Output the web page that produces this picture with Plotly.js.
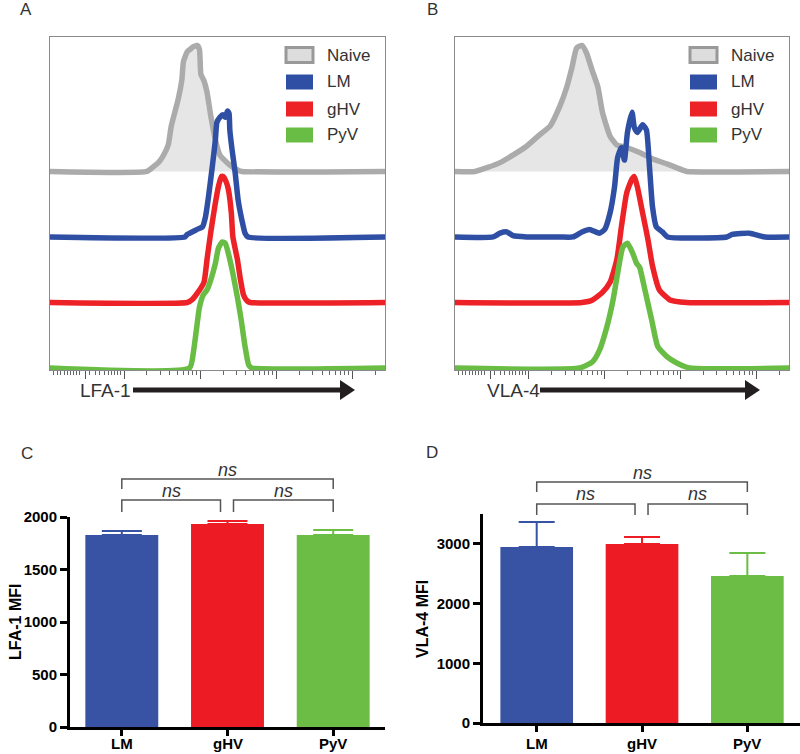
<!DOCTYPE html>
<html><head><meta charset="utf-8">
<script src="https://cdn.plot.ly/plotly-3.0.1.min.js"></script>
<style>html,body{margin:0;padding:0;background:#fff}#chart{width:800px;height:754px}</style>
</head><body><div id="chart"></div>
<script>
// ---------- DATA ----------
const groups = ['Naive', 'LM', 'gHV', 'PyV'];
const histColors = ['#ababab', '#2f4fa4', '#ec2227', '#69bd45'];
const naiveFill = '#e6e6e6';

// Panel A: LFA-1 histograms (x = display position in log10 units, pct = % of mode)
const lfaNaiveX = [1.0, 2.30, 2.37, 2.45, 2.51, 2.58, 2.62, 2.71, 2.76, 2.78, 2.83, 2.87, 2.91, 2.96, 2.99, 3.01, 3.05, 3.09, 3.14, 3.20, 3.26, 3.39, 3.50, 3.55, 5.5];
const lfaNaivePct = [0, 0, 3, 7, 12, 21, 36, 57, 73, 87, 95, 97, 99, 100, 97, 77, 72, 63, 44, 25, 13, 5, 1, 0, 0];
const lfaLMX = [1.0, 2.80, 2.83, 2.96, 3.03, 3.07, 3.11, 3.16, 3.20, 3.22, 3.26, 3.30, 3.33, 3.36, 3.38, 3.39, 3.42, 3.46, 3.50, 3.55, 3.59, 3.63, 5.5];
const lfaLMPct = [0, 0, 2, 6, 8, 16, 32, 56, 77, 91, 95, 97, 95, 100, 98, 85, 69, 51, 29, 13, 3, 0, 0];
const lfaGHVX = [1.0, 2.83, 2.89, 2.97, 3.05, 3.09, 3.14, 3.20, 3.24, 3.28, 3.30, 3.34, 3.37, 3.41, 3.43, 3.49, 3.53, 3.57, 3.62, 3.66, 5.5];
const lfaGHVPct = [0, 0, 2, 8, 16, 34, 56, 79, 92, 100, 100, 96, 90, 71, 52, 34, 18, 6, 1, 0, 0];
const lfaPyVX = [1.0, 2.86, 2.91, 2.95, 2.99, 3.04, 3.09, 3.14, 3.20, 3.24, 3.29, 3.33, 3.37, 3.43, 3.49, 3.54, 3.59, 3.64, 3.68, 5.5];
const lfaPyVPct = [0, 0, 12, 30, 48, 58, 62, 70, 83, 95, 100, 99, 91, 75, 56, 38, 17, 2, 0, 0];

// Panel B: VLA-4 histograms
const vlaNaiveX = [1.0, 1.29, 1.45, 1.62, 1.79, 1.97, 2.14, 2.28, 2.41, 2.50, 2.57, 2.63, 2.70, 2.76, 2.83, 2.91, 2.97, 3.07, 3.16, 3.29, 3.46, 3.63, 3.82, 4.03, 4.08, 5.5];
const vlaNaivePct = [0, 0, 3, 7, 13, 20, 29, 36, 52, 67, 83, 98, 100, 94, 81, 67, 47, 28, 21, 19, 15, 10, 6, 1, 0, 0];
const vlaLMX = [1.0, 1.53, 1.62, 1.71, 1.79, 1.97, 2.14, 2.41, 2.58, 2.70, 2.80, 2.93, 3.00, 3.07, 3.13, 3.17, 3.22, 3.26, 3.30, 3.36, 3.39, 3.43, 3.50, 3.55, 3.59, 3.63, 3.68, 3.76, 3.83, 4.61, 4.68, 4.91, 5.11, 5.5];
const vlaLMPct = [0, 0, 3, 4, 1, 0, 0, 0, 0, 4, 6, 3, 6, 19, 40, 63, 71, 61, 83, 99, 87, 83, 89, 85, 56, 24, 8, 4, 0, 0, 2, 3, 0, 0];
const vlaGHVX = [1.0, 2.70, 2.84, 2.97, 3.07, 3.16, 3.22, 3.29, 3.36, 3.39, 3.43, 3.50, 3.57, 3.63, 3.72, 3.86, 4.08, 5.5];
const vlaGHVPct = [0, 0, 2, 8, 16, 34, 60, 87, 98, 100, 92, 71, 50, 29, 10, 2, 0, 0];
const vlaPyVX = [1.0, 2.67, 2.84, 2.93, 3.03, 3.11, 3.17, 3.24, 3.30, 3.37, 3.42, 3.46, 3.53, 3.62, 3.70, 3.82, 3.95, 4.12, 5.5];
const vlaPyVPct = [0, 0, 5, 14, 33, 54, 75, 96, 99, 91, 83, 80, 62, 38, 17, 9, 4, 0, 0];

// Histogram axis ticks (biexponential display: zero, 10^2 .. 10^5)
const histMajorTicks = [1.49, 2, 3, 4, 5];
const histLeftMinorTicks = [1.07, 1.12, 1.17, 1.22, 1.26, 1.30, 1.34, 1.38, 1.42, 1.55, 1.62, 1.68, 1.74, 1.79, 1.83, 1.87, 1.91, 1.95];
const decades = [2, 3, 4, 5];
const decadeMultipliers = [2, 3, 4, 5, 6, 7, 8, 9];

// Panels C & D: MFI bar charts
const barCats = ['LM', 'gHV', 'PyV'];
const barColors = ['#3953a4', '#ed1c24', '#6cbd45'];
const lfaMFI = [1829, 1933, 1829];
const lfaSEM = [38, 29, 48];
const vlaMFI = [2948, 2998, 2462];
const vlaSEM = [419, 118, 386];
const lfaTicks = [0, 500, 1000, 1500, 2000];
const vlaTicks = [0, 1000, 2000, 3000];
const yTitles = ['LFA-1 MFI', 'VLA-4 MFI'];
const sigLabel = 'ns';
const comparisons = [[0, 1], [1, 2], [0, 2]];

// ---------- LAYOUT HELPERS ----------
const W = 800, H = 754;
const PX = x => x / W;
const PY = y => 1 - y / H;
const histXRange = [1.026, 5.43];
const histYRange = [-1.6, 262.7];
const offsets = [156, 104, 52, 0];

const panels = {
  A: {x: [50, 385], y: [37, 370]},
  B: {x: [455, 789], y: [37, 370]},
  C: {x: [70, 385], y: [517, 727], r: [-0.49, 2.49]},
  D: {x: [483, 800], y: [514, 723], r: [-0.51, 2.5]}
};
const dom = p => ({x: [PX(p.x[0]), PX(p.x[1])], y: [PY(p.y[1]), PY(p.y[0])]});

const histMinorTicks = histLeftMinorTicks.slice();
decades.forEach(d => decadeMultipliers.forEach(m => {
  const v = d + Math.log10(m);
  if (v < histXRange[1]) histMinorTicks.push(v);
}));

const traces = [];
function addHist(xs, pcts, i, xa, ya) {
  const y = pcts.map(v => v + offsets[i]);
  const t = {x: xs, y: y, type: 'scatter', mode: 'lines', xaxis: xa, yaxis: ya,
    line: {color: histColors[i], width: 5.5, shape: 'spline', smoothing: 0.5}, showlegend: false, hoverinfo: 'skip'};
  if (i === 0) { t.fill = 'toself'; t.fillcolor = naiveFill; }
  traces.push(t);
}
[[lfaNaiveX, lfaNaivePct], [lfaLMX, lfaLMPct], [lfaGHVX, lfaGHVPct], [lfaPyVX, lfaPyVPct]]
  .forEach((s, i) => addHist(s[0], s[1], i, 'x', 'y'));
[[vlaNaiveX, vlaNaivePct], [vlaLMX, vlaLMPct], [vlaGHVX, vlaGHVPct], [vlaPyVX, vlaPyVPct]]
  .forEach((s, i) => addHist(s[0], s[1], i, 'x2', 'y2'));

function addBars(vals, sems, xa, ya, capW) {
  barCats.forEach((c, i) => traces.push({
    type: 'bar', x: [c], y: [vals[i]], xaxis: xa, yaxis: ya, width: 0.69,
    marker: {color: barColors[i], line: {width: 0}}, showlegend: false, hoverinfo: 'skip',
    error_y: {type: 'data', symmetric: false, array: [sems[i]], arrayminus: [0],
      color: barColors[i], thickness: 2, width: capW}
  }));
}
addBars(lfaMFI, lfaSEM, 'x3', 'y3', 20);
addBars(vlaMFI, vlaSEM, 'x4', 'y4', 18);

const FONT = 'Liberation Sans, Arial, sans-serif';
const histX = d => ({domain: d.x, range: histXRange, showline: true, linecolor: '#8a8a8a', linewidth: 1, mirror: true,
  ticks: 'outside', tickmode: 'array', tickvals: histMajorTicks, ticklen: 8, tickwidth: 1, tickcolor: '#555',
  showticklabels: false, showgrid: false, zeroline: false, fixedrange: true,
  minor: {tickmode: 'array', tickvals: histMinorTicks, ticks: 'outside', ticklen: 4, tickwidth: 1, tickcolor: '#666', showgrid: false}});
const histY = (d, xa) => ({domain: d.y, range: histYRange, showline: true, linecolor: '#8a8a8a', linewidth: 1, mirror: true,
  ticks: '', showticklabels: false, showgrid: false, zeroline: false, anchor: xa, fixedrange: true});

const barX = (d, r, ya) => ({domain: d.x, range: r, type: 'category', categoryarray: barCats, anchor: ya,
  showline: true, linecolor: '#000', linewidth: 3, ticks: 'outside', ticklen: 6, tickwidth: 3, tickcolor: '#000',
  showticklabels: false, showgrid: false, zeroline: false, fixedrange: true});
const barY = (d, r, tv, xa) => ({domain: d.y, range: r, anchor: xa, tickmode: 'array', tickvals: tv,
  showline: true, linecolor: '#000', linewidth: 3, ticks: 'outside', ticklen: 7, tickwidth: 3, tickcolor: '#000',
  tickfont: {family: FONT, size: 15, weight: 'bold', color: '#000'}, showgrid: false, zeroline: false, fixedrange: true});

const dA = dom(panels.A), dB = dom(panels.B), dC = dom(panels.C), dD = dom(panels.D);

const shapes = [], annotations = [];
[['A', 26, 9], ['B', 432, 9], ['C', 27, 453], ['D', 432, 452]].forEach(l => annotations.push({
  text: l[0], x: PX(l[1]), y: PY(l[2]), xref: 'paper', yref: 'paper', showarrow: false,
  xanchor: 'center', yanchor: 'middle', font: {family: FONT, size: 17, color: '#333'}}));

function histDeco(p, label, labelLeft) {
  const sx0 = p.x[1] - 99, sx1 = p.x[1] - 72, tx = p.x[1] - 60;
  const ys = [55, 82, 109, 135];
  groups.forEach((g, i) => {
    shapes.push({type: 'rect', xref: 'paper', yref: 'paper', x0: PX(sx0), x1: PX(sx1), y0: PY(ys[i] + 7.5), y1: PY(ys[i] - 7.5),
      fillcolor: i === 0 ? '#dddddd' : histColors[i], line: {color: i === 0 ? '#999' : histColors[i], width: i === 0 ? 3 : 0}});
    annotations.push({text: g, x: PX(tx), y: PY(ys[i]), xref: 'paper', yref: 'paper', showarrow: false,
      xanchor: 'left', yanchor: 'middle', font: {family: FONT, size: 17, color: '#333'}});
  });
  annotations.push({text: label, x: PX(labelLeft), y: PY(390), xref: 'paper', yref: 'paper', showarrow: false,
    xanchor: 'left', yanchor: 'middle', font: {family: FONT, size: 19, color: '#333'}});
  const lx0 = labelLeft + 55, hx = p.x[0] + 290;
  shapes.push({type: 'line', xref: 'paper', yref: 'paper', x0: PX(lx0), x1: PX(hx + 2), y0: PY(390), y1: PY(390),
    line: {color: '#231f20', width: 5}});
  shapes.push({type: 'path', xref: 'paper', yref: 'paper', fillcolor: '#231f20', line: {width: 0},
    path: `M ${PX(hx)} ${PY(380)} L ${PX(hx + 15)} ${PY(390)} L ${PX(hx)} ${PY(400)} Z`});
}
histDeco(panels.A, 'LFA-1', 78);
histDeco(panels.B, 'VLA-4', 485);

function catPx(p, idx) { return p.x[0] + (idx - p.r[0]) / (p.r[1] - p.r[0]) * (p.x[1] - p.x[0]); }
function barDeco(p, title, titleX, titleY) {
  barCats.forEach((c, i) => annotations.push({text: c, x: PX(catPx(p, i)), y: PY(743), xref: 'paper', yref: 'paper',
    showarrow: false, xanchor: 'center', yanchor: 'middle', font: {family: FONT, size: 15, weight: 'bold', color: '#000'}}));
  annotations.push({text: title, x: PX(titleX), y: PY(titleY), xref: 'paper', yref: 'paper', showarrow: false,
    textangle: -90, xanchor: 'center', yanchor: 'middle', font: {family: FONT, size: 16, weight: 'bold', color: '#000'}});
}
barDeco(panels.C, yTitles[0], 15, 622);
barDeco(panels.D, yTitles[1], 422, 619);

function brackets(p, lowLine, lowLeg, topLine, topLeg, lowText, topText) {
  comparisons.forEach(c => {
    const top = (c[1] - c[0]) === 2;
    let x0 = catPx(p, c[0]), x1 = catPx(p, c[1]);
    if (!top) { if (c[1] === 1) x1 -= 7; if (c[0] === 1) x0 += 6; }
    const yl = top ? topLine : lowLine, yg = top ? topLeg : lowLeg;
    shapes.push({type: 'path', xref: 'paper', yref: 'paper', line: {color: '#555', width: 1.5},
      path: `M ${PX(x0)} ${PY(yg)} L ${PX(x0)} ${PY(yl)} L ${PX(x1)} ${PY(yl)} L ${PX(x1)} ${PY(yg)}`});
    annotations.push({text: sigLabel, x: PX((x0 + x1) / 2), y: PY(top ? topText : lowText), xref: 'paper', yref: 'paper',
      showarrow: false, xanchor: 'center', yanchor: 'middle', font: {family: FONT, size: 18, style: 'italic', color: '#333'}});
  });
}
brackets(panels.C, 500, 512, 479, 489, 491, 470);
brackets(panels.D, 504, 515, 482, 492, 494, 473);

const layout = {
  width: W, height: H, margin: {l: 0, r: 0, t: 0, b: 0}, paper_bgcolor: '#fff', plot_bgcolor: 'rgba(0,0,0,0)',
  showlegend: false, barmode: 'overlay', font: {family: FONT, color: '#333'},
  xaxis: Object.assign(histX(dA), {anchor: 'y'}), yaxis: histY(dA, 'x'),
  xaxis2: Object.assign(histX(dB), {anchor: 'y2'}), yaxis2: histY(dB, 'x2'),
  xaxis3: barX(dC, panels.C.r, 'y3'), yaxis3: barY(dC, [0, 2000], lfaTicks, 'x3'),
  xaxis4: barX(dD, panels.D.r, 'y4'), yaxis4: barY(dD, [0, 3500], vlaTicks, 'x4'),
  shapes: shapes, annotations: annotations
};
Plotly.newPlot('chart', traces, layout, {staticPlot: true, displayModeBar: false});
</script>
</body></html>
